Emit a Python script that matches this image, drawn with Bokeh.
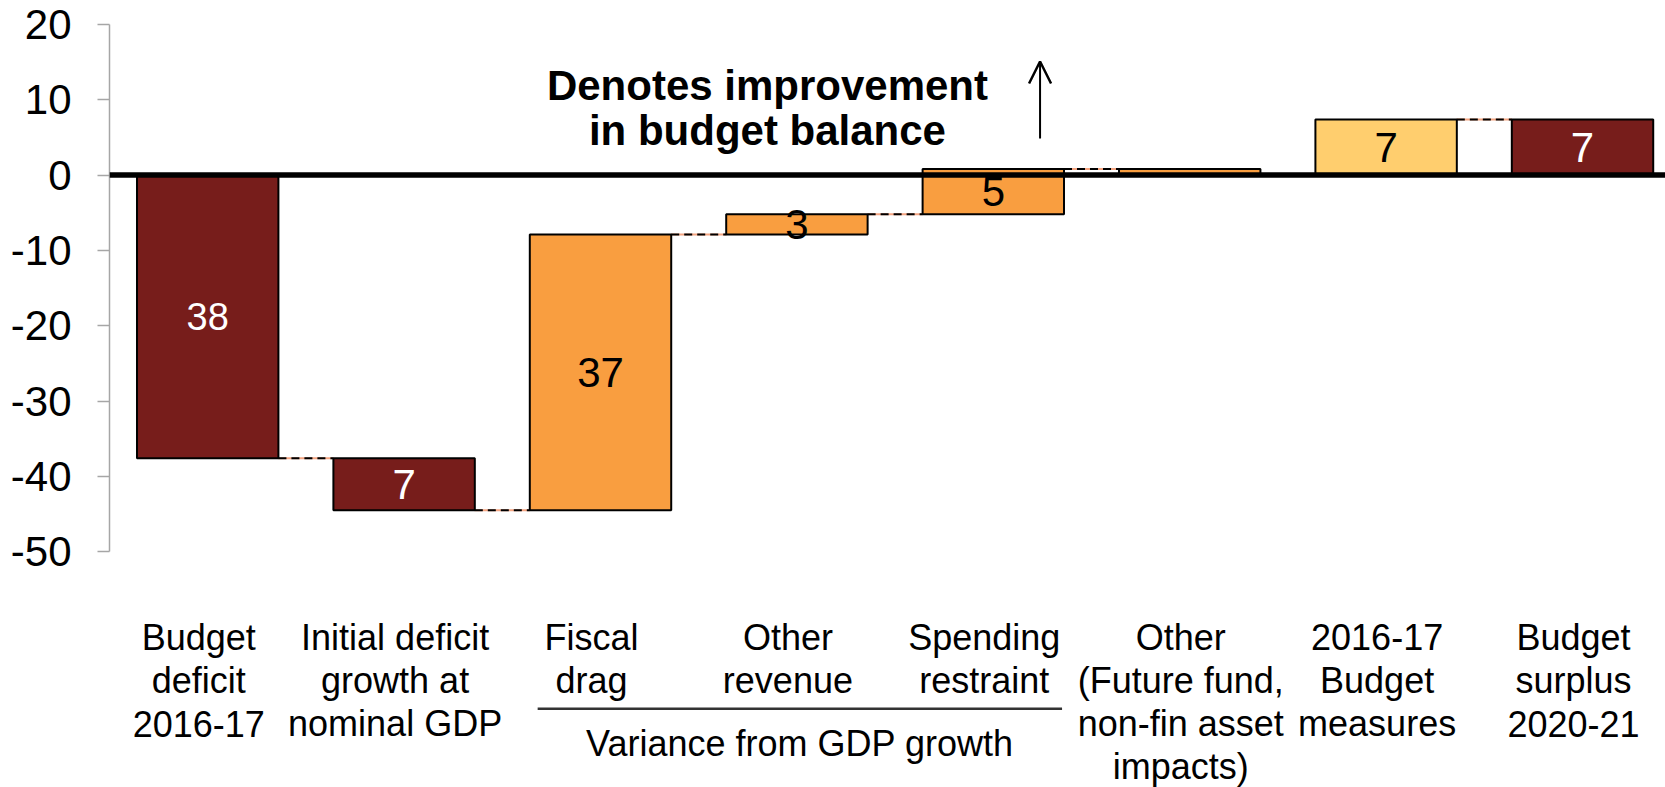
from bokeh.plotting import figure
from bokeh.models import ColumnDataSource, Span, Arrow, OpenHead, FixedTicker, Range1d
from bokeh.core.properties import value
from bokeh.embed import file_html
from bokeh.resources import INLINE

# ---------------- data ----------------
category_lines = [
    ["Budget", "deficit", "2016-17"],
    ["Initial deficit", "growth at", "nominal GDP"],
    ["Fiscal", "drag"],
    ["Other", "revenue"],
    ["Spending", "restraint"],
    ["Other", "(Future fund,", "non-fin asset", "impacts)"],
    ["2016-17", "Budget", "measures"],
    ["Budget", "surplus", "2020-21"],
]
# change contributed by each step ($b); first and last are totals
step_values = [-37.6, -6.9, 36.6, 2.7, 6.0, -0.8, 7.4, 7.4]
is_total = [True, False, False, False, False, False, False, True]
value_labels = ["38", "7", "37", "3", "5", "", "7", "7"]
label_sizes = ["38px", "42px", "42px", "42px", "42px", "42px", "42px", "42px"]
bar_colors = ["#771D1B", "#771D1B", "#F99E40", "#F99E40", "#F99E40", "#F99E40", "#FFCE6E", "#771D1B"]
label_colors = ["white", "white", "black", "black", "black", "black", "black", "white"]
y_ticks = [-50, -40, -30, -20, -10, 0, 10, 20]
y_tick_labels = ["-50", "-40", "-30", "-20", "-10", "0", "10", "20"]
group_label = "Variance from GDP growth"
group_members = [2, 4]  # indices covered by the bracket

# ---------------- waterfall geometry ----------------
n = len(step_values)
xs = list(range(n))
bottoms, tops, ends = [], [], []
running = 0.0
for v, tot in zip(step_values, is_total):
    if tot:
        start, end = 0.0, v
    else:
        start, end = running, running + v
    running = end
    bottoms.append(min(start, end))
    tops.append(max(start, end))
    ends.append(end)
mids = [(b + t) / 2 for b, t in zip(bottoms, tops)]

BAR_W = 0.72
src = ColumnDataSource(dict(x=xs, top=tops, bottom=bottoms, color=bar_colors,
                            mid=mids, lab=value_labels, lab_color=label_colors,
                            lab_size=label_sizes))

W, H = 1665, 787
LEFT = 109
xr = (-0.5, 7.4225)
yr = (-81.33, 23.19)
ppu = H / (yr[1] - yr[0])  # pixels per y unit


def py(px):
    """screen pixel row -> data y"""
    return yr[1] - px / ppu


p = figure(width=W, height=H, x_range=Range1d(*xr), y_range=Range1d(*yr),
           output_backend="svg", toolbar_location=None, x_axis_location=None,
           min_border=0, min_border_left=LEFT, min_border_right=0,
           min_border_top=0, min_border_bottom=0)
p.outline_line_color = None
p.xgrid.visible = False
p.ygrid.visible = False
p.background_fill_color = "white"
p.border_fill_color = "white"

ax = p.yaxis[0]
ax.ticker = FixedTicker(ticks=y_ticks)
ax.major_label_overrides = {t: s for t, s in zip(y_ticks, y_tick_labels)}
ax.bounds = (min(y_ticks), max(y_ticks))
ax.axis_line_color = "#A6A6A6"
ax.axis_line_width = 1.5
ax.major_tick_line_color = "#A6A6A6"
ax.major_tick_line_width = 1.5
ax.major_tick_out = 12
ax.major_tick_in = 0
ax.minor_tick_out = 0
ax.minor_tick_in = 0
ax.major_label_text_font = "Liberation Sans"
ax.major_label_text_font_size = "42px"
ax.major_label_text_color = "black"
ax.major_label_standoff = 26

# connectors
cx0 = [i + BAR_W / 2 for i in xs[:-1]]
cx1 = [i + 1 - BAR_W / 2 for i in xs[:-1]]
cy = ends[:-1]
p.segment(x0=cx0, y0=cy, x1=cx1, y1=cy, line_color="#F4A582", line_width=2)
p.segment(x0=cx0, y0=cy, x1=cx1, y1=cy, line_color="black", line_width=2, line_dash="8 5")

# bars
p.vbar(x="x", width=BAR_W, top="top", bottom="bottom", fill_color="color",
       line_color="black", line_width=2, source=src)

# zero line
p.add_layout(Span(location=0, dimension="width", line_color="black", line_width=5.5))

# value labels
p.text(x="x", y="mid", text="lab", text_color="lab_color", text_align="center",
       text_baseline="middle", text_font=value("Liberation Sans"),
       text_font_size="lab_size", source=src)

# category labels (multi-line)
base_px = 636.5
line_gap = 43.3
lx, ly, lt = [], [], []
for i, lines in enumerate(category_lines):
    for k, t in enumerate(lines):
        lx.append(i)
        ly.append(py(base_px + k * line_gap))
        lt.append(t)
p.text(x=lx, y=ly, text=lt, text_align="center", text_baseline="alphabetic",
       x_offset=-9,
       text_font=value("Liberation Sans"), text_font_size="36px", text_color="black")

# group bracket
gx0 = group_members[0] - 0.32
gx1 = group_members[1] + 0.35
p.line(x=[gx0, gx1], y=[py(708.3), py(708.3)], line_color="#333333", line_width=2.5)
p.text(x=[(gx0 + gx1) / 2], y=[py(742.5)], text=[group_label],
       text_align="center", text_baseline="alphabetic",
       text_font=value("Liberation Sans"), text_font_size="36px", text_color="black")

# annotation
ann_x = 2.85
p.text(x=[ann_x, ann_x], y=[py(85.0), py(130.0)],
       text=["Denotes improvement", "in budget balance"],
       text_align="center", text_baseline="alphabetic",
       text_font=value("Liberation Sans"), text_font_style="bold",
       text_font_size="42px", text_color="black")
p.add_layout(Arrow(end=OpenHead(size=22, line_width=2.5, line_color="black"),
                   x_start=4.238, y_start=py(138), x_end=4.238, y_end=py(61),
                   line_width=2, line_color="black"))

open("out.html", "w").write(file_html(p, INLINE))
